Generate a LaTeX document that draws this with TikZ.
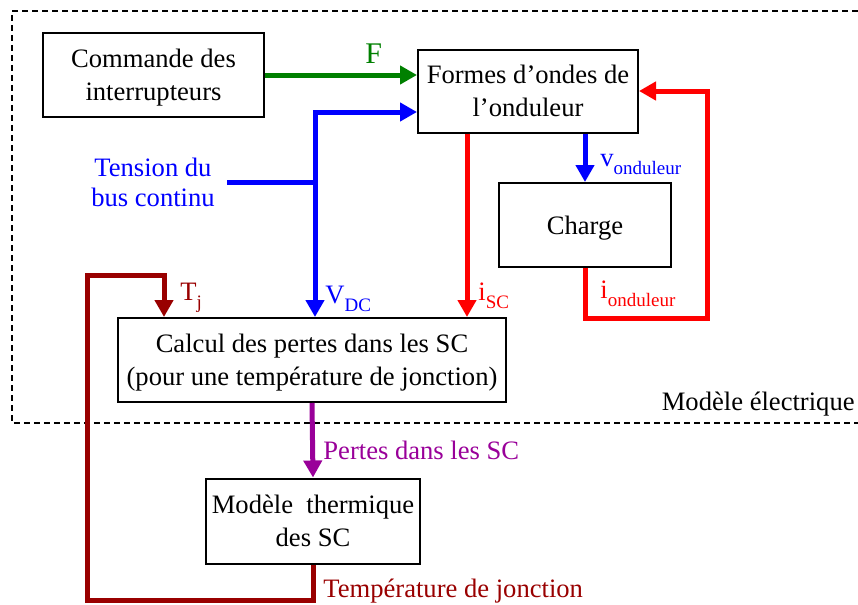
\documentclass[tikz,border=0pt]{standalone}
\usepackage{fontspec}
\setmainfont{Liberation Serif}
\usetikzlibrary{arrows.meta}
\definecolor{vert}{RGB}{0,128,0}
\definecolor{bordeaux}{RGB}{153,0,0}
\definecolor{pourpre}{RGB}{153,0,153}
\newcommand{\indice}[1]{\raisebox{-4pt}{\fontsize{9.5}{10}\selectfont #1}}
\begin{document}
\begin{tikzpicture}[x=0.5pt,y=-0.5pt]
\tikzset{
    bloc/.style={draw, line width=1pt, align=center, inner sep=0pt, text depth=0pt, font=\fontsize{13.3}{16.5}\selectfont},
    etiq/.style={inner sep=0pt, font=\fontsize{13.3}{15}\selectfont},
    lien/.style={line width=2.5pt},
    fleche/.style={line width=2.5pt, -{Triangle[length=8.5pt,width=9pt]}}
}
\useasboundingbox (0,0) rectangle (858,605);

% cadre du modele electrique
\draw[line width=0.6pt, dash pattern=on 3pt off 2pt] (858,11) -- (12,11) -- (12,423) -- (858,423);
\draw node[etiq, anchor=base east] (melec) at (855,410) {Modèle électrique};

\draw node[bloc, minimum width=110.5pt, minimum height=42pt] (cmd) at (153.5,75) {Commande des\\interrupteurs};
\draw node[bloc, minimum width=110pt, minimum height=41.5pt] (formes) at (528,91) {Formes d’ondes de\\l’onduleur};
\draw node[bloc, minimum width=86pt, minimum height=42pt] (charge) at (585,225) {Charge};
\draw node[bloc, minimum width=194pt, minimum height=42pt] (calcul) at (312,360) {Calcul des pertes dans les SC\\(pour une température de jonction)};
\draw node[bloc, minimum width=107pt, minimum height=42.5pt] (thermique) at (313,521) {Modèle~~thermique\\des SC};
\draw node[etiq, blue, align=center] (tension) at (153,182) {Tension du\\bus continu};

\coordinate (bus) at (227,182);
\coordinate (noeud) at (315,182);
\coordinate (coude) at (315,112);
\coordinate (isc) at (467,0);
\coordinate (retour) at (707,318);
\coordinate (bas) at (87,600);
\coordinate (tj) at (164,275);

\draw[fleche, vert] (cmd.east) -- (cmd.east -| formes.west);
\draw[lien, blue] (bus) -- (noeud);
\draw[fleche, blue, {Triangle[length=8.5pt,width=9pt]}-{Triangle[length=8.5pt,width=9pt]}] (coude |- calcul.north) -- (coude) -- (coude -| formes.west);
\draw[fleche, blue] (charge.north |- formes.south) -- (charge.north);
\draw[fleche, red] (isc |- formes.south) -- (isc |- calcul.north);
\draw[fleche, red] (charge.south) |- (retour) |- (formes.east);
\draw[fleche, pourpre] (calcul.south) -- (thermique.north);
\draw[fleche, bordeaux] (thermique.south) |- (bas) |- (tj) -- (tj |- calcul.north);

\draw node[etiq, vert, anchor=base west, font=\fontsize{15}{15}\selectfont] (lf) at (365,63) {F};
\draw node[etiq, blue, anchor=base west] (lvdc) at (325,303) {V\indice{DC}};
\draw node[etiq, red, anchor=base west] (lisc) at (478,300) {i\indice{SC}};
\draw node[etiq, blue, anchor=base west] (lvond) at (600,166) {v\indice{onduleur}};
\draw node[etiq, red, anchor=base west] (liond) at (600,298) {i\indice{onduleur}};
\draw node[etiq, bordeaux, anchor=base west] (ltj) at (180,300) {T\indice{j}};
\draw node[etiq, pourpre, anchor=base west] (lpertes) at (323,459) {Pertes dans les SC};
\draw node[etiq, bordeaux, anchor=base west] (ltemp) at (323,597) {Température de jonction};
\end{tikzpicture}
\end{document}
